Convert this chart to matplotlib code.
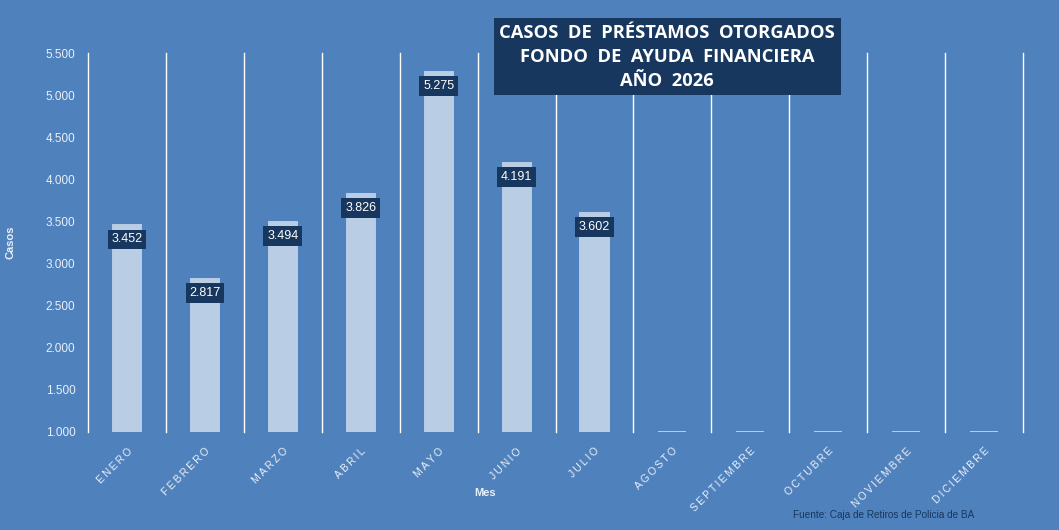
import numpy as np
import matplotlib.pyplot as plt
from matplotlib.ticker import FuncFormatter

meses = ["ENERO", "FEBRERO", "MARZO", "ABRIL", "MAYO", "JUNIO", "JULIO",
         "AGOSTO", "SEPTIEMBRE", "OCTUBRE", "NOVIEMBRE", "DICIEMBRE"]
casos = [3452, 2817, 3494, 3826, 5275, 4191, 3602, 0, 0, 0, 0, 0]
y_min, y_max = 1000, 5500
y_ticks = list(range(1000, 5501, 500))

BG = '#4F81BD'
BAR = '#B9CDE5'
NAVY = '#17375E'
TXT = '#EAF0F8'


def miles(v, _pos=None):
    return f"{int(v):,}".replace(",", ".")


def spaced(s):
    return "\u2009".join(s)


def main():
    plt.rcParams['font.family'] = ['Liberation Sans', 'DejaVu Sans']
    fig = plt.figure(figsize=(10.59, 5.30), dpi=100, facecolor=BG)
    ax = fig.add_axes([0.0831, 0.185, 0.883, 0.715], facecolor=BG)

    x = np.arange(len(meses))
    alturas = [max(v, y_min) - y_min for v in casos]
    ax.bar(x, alturas, bottom=y_min, width=0.36, color=BAR,
           edgecolor=BAR, linewidth=1.4, zorder=3)

    # etiquetas de datos
    for xi, v in zip(x, casos):
        if v <= y_min:
            continue
        ax.annotate(miles(v), (xi, v), xytext=(0, -14), textcoords='offset pixels',
                    ha='center', va='center', color='white', fontsize=9, zorder=4,
                    bbox=dict(boxstyle='square,pad=0.3', fc=NAVY, ec='none'))

    # lineas verticales entre categorias
    for b in np.arange(-0.5, len(meses), 1.0):
        ax.axvline(b, color='white', lw=1.0, zorder=1, clip_on=False)

    ax.set_xlim(-0.5, len(meses) - 0.5)
    ax.set_ylim(y_min, y_max)
    ax.set_yticks(y_ticks)
    ax.yaxis.set_major_formatter(FuncFormatter(miles))
    ax.set_xticks(x)
    ax.set_xticklabels([spaced(m) for m in meses], rotation=45, ha='right',
                       rotation_mode='anchor', fontsize=7.5, color=TXT)
    ax.tick_params(axis='y', length=0, labelsize=8.5, colors=TXT, pad=9)
    ax.tick_params(axis='x', length=0, pad=10)
    for s in ax.spines.values():
        s.set_visible(False)

    ax.set_ylabel('Casos', fontsize=8, fontweight='bold', color=TXT)
    ax.yaxis.set_label_coords(-0.078, 0.5)
    ax.set_xlabel('Mes', fontsize=8, fontweight='bold', color=TXT)
    ax.xaxis.set_label_coords(0.4246, -0.147)

    fig.text(0.63, 0.893, 'CASOS  DE  PRÉSTAMOS  OTORGADOS\nFONDO  DE  AYUDA  FINANCIERA\nAÑO  2026',
             ha='center', va='center', color='white', fontsize=13.2, fontweight='bold',
             linespacing=1.42, family=['Open Sans', 'DejaVu Sans'],
             bbox=dict(boxstyle='square,pad=0.3', fc=NAVY, ec='none'))

    fig.text(0.749, 0.028, 'Fuente: Caja de Retiros de Policia de BA', ha='left', va='center',
             color=NAVY, fontsize=7.2)

    fig.savefig('out.png', dpi=100, facecolor=BG)


if __name__ == "__main__":
    main()
